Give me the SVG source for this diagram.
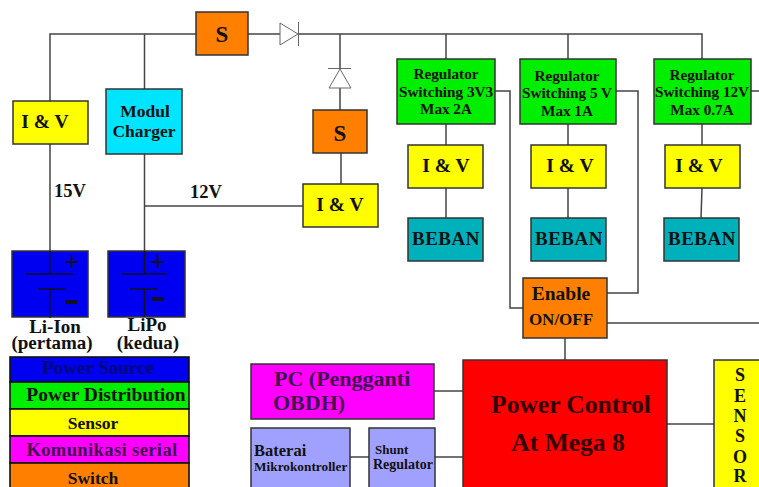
<svg xmlns="http://www.w3.org/2000/svg" width="759" height="487" viewBox="0 0 759 487">
<style>
text{font-family:"Liberation Serif","Times New Roman",serif;font-weight:bold;fill:#111;text-anchor:middle}
.st{text-anchor:start}
.b{stroke:#333;stroke-width:1.5}
.l{stroke:#111;stroke-width:1.6}
.w{stroke:#444;stroke-width:1.5;fill:none}
.p{stroke:#112;stroke-width:1.3;fill:none}
.yl{fill:#ffff00}.or{fill:#ff7f00}.gr{fill:#00ee00}.te{fill:#00b0bb}.cy{fill:#00e5ff}.bl{fill:#0000f0}.mg{fill:#ff00ff}.lv{fill:#a0a0ff}.rd{fill:#ff0000}
.iv{font-size:19.5px}.reg{font-size:15.2px}.be{font-size:19px;letter-spacing:.5px}.s{font-size:23px}.cap{font-size:19px}
</style>
<rect width="759" height="487" fill="#fff"/>
<g id="connectors" class="w">
<path d="M50 101V34H196M144.500 34V89M248 34H280M298 34H702V59M446 34V59M568 34V59"/>
<path d="M50 144V251M144.500 154V251M144.500 206H303"/>
<path d="M340 34V69M340 88V110M341 153V184"/>
<path d="M446 124V145M446 188V218M568 124V145M568 188V218M702 124V145M702 188L701 218"/>
<path d="M495 91H510V308H523M616 91H638V293H607M751 91H759M607 323H759M565 338V360"/>
<path d="M434 391H463M350 457H369M435 457H463M667 424H714"/>
</g>
<g id="diode-1"><path d="M280 23V45L298 34ZM298.500 22V46" fill="#fff" stroke="#666" stroke-width="1"/></g>
<g id="diode-2"><path d="M340 69L329 88H351ZM328 68.500H351" fill="#fff" stroke="#666" stroke-width="1"/></g>
<g id="switch-main"><rect class="b or" x="196" y="12" width="52" height="43"/><text class="s" x="222" y="42">S</text></g>
<g id="iv-liion"><rect class="b yl" x="13" y="101" width="75" height="43"/><text class="iv" x="45" y="128">I &amp; V</text></g>
<g id="charger"><rect class="b cy" x="106" y="89" width="76" height="65"/><text x="145" y="117" font-size="17.500">Modul</text><text x="144" y="137" font-size="17.500">Charger</text></g>
<g id="switch-2"><rect class="b or" x="313" y="110" width="54" height="43"/><text class="s" x="340" y="141">S</text></g>
<g id="iv-lipo"><rect class="b yl" x="303" y="184" width="75" height="43"/><text class="iv" x="340" y="211">I &amp; V</text></g>
<g id="reg-3v3"><rect class="b gr" x="397" y="59" width="98" height="65"/><text class="reg" x="446" y="79">Regulator</text><text class="reg" x="446" y="97">Switching 3V3</text><text class="reg" x="446" y="114">Max 2A</text></g>
<g id="reg-5v"><rect class="b gr" x="520" y="59" width="96" height="65"/><text class="reg" x="567" y="81">Regulator</text><text class="reg" x="567" y="98">Switching 5 V</text><text class="reg" x="567" y="116">Max 1A</text></g>
<g id="reg-12v"><rect class="b gr" x="654" y="59" width="97" height="65"/><text class="reg" x="702" y="80">Regulator</text><text class="reg" x="702" y="97">Switching 12V</text><text class="reg" x="702" y="115">Max 0.7A</text></g>
<g id="iv-3v3"><rect class="b yl" x="408" y="145" width="75" height="43"/><text class="iv" x="446" y="172">I &amp; V</text></g>
<g id="iv-5v"><rect class="b yl" x="531" y="145" width="75" height="43"/><text class="iv" x="570" y="172">I &amp; V</text></g>
<g id="iv-12v"><rect class="b yl" x="665" y="145" width="75" height="43"/><text class="iv" x="699" y="172">I &amp; V</text></g>
<g id="beban-1"><rect class="b te" x="408" y="218" width="75" height="43"/><text class="be" x="446" y="245">BEBAN</text></g>
<g id="beban-2"><rect class="b te" x="531" y="218" width="75" height="43"/><text class="be" x="569" y="245">BEBAN</text></g>
<g id="beban-3"><rect class="b te" x="664" y="218" width="75" height="43"/><text class="be" x="702" y="245">BEBAN</text></g>
<g id="enable"><rect class="b or" x="523" y="278" width="84" height="60"/><text x="561" y="300" font-size="19.500">Enable</text><text x="561" y="325" font-size="17">ON/OFF</text></g>
<g id="power-control"><rect class="b rd" x="463" y="360" width="204" height="140"/><text x="571" y="413" font-size="25.500" style="fill:#300">Power Control</text><text x="568" y="451" font-size="25.500" style="fill:#300">At Mega 8</text></g>
<g id="sensor"><rect class="b yl" x="714" y="360" width="50" height="140"/><g font-size="18"><text x="740" y="381">S</text><text x="740" y="402">E</text><text x="740" y="422">N</text><text x="740" y="442">S</text><text x="740" y="463">O</text><text x="740" y="482">R</text></g></g>
<g id="pc"><rect class="b mg" x="251" y="364" width="183" height="55"/><text class="st" x="274" y="386" font-size="22" style="fill:#401050">PC (Pengganti</text><text class="st" x="273" y="410" font-size="22" style="fill:#401050">OBDH)</text></g>
<g id="baterai"><rect class="b lv" x="251" y="428" width="99" height="62"/><text class="st" x="254" y="456" font-size="16.500">Baterai</text><text class="st" x="254" y="471" font-size="13.300">Mikrokontroller</text></g>
<g id="shunt"><rect class="b lv" x="369" y="428" width="66" height="62"/><text class="st" x="375" y="454" font-size="13">Shunt</text><text class="st" x="373" y="469" font-size="14">Regulator</text></g>
<g id="battery-liion"><rect class="b bl" x="12" y="251" width="76" height="66"/><path class="p" d="M50 251V274M26 274H73M38 289H65M50 289V318"/><text x="72" y="271" font-size="27" style="fill:#112">+</text><rect x="65" y="300" width="12" height="4" fill="#112"/></g>
<g id="battery-lipo"><rect class="b bl" x="108" y="251" width="77" height="66"/><path class="p" d="M144.500 251V274M122 274H167M130 289H157M144.500 289V317"/><text x="158" y="271" font-size="27" style="fill:#112">+</text><rect x="152" y="297" width="12" height="4" fill="#112"/></g>
<g id="labels"><text x="70" y="197" font-size="18.500">15V</text><text x="206" y="198" font-size="18.500">12V</text><text class="cap" x="55" y="333">Li-Ion</text><text class="cap" x="52" y="349">(pertama)</text><text class="cap" x="147" y="331">LiPo</text><text class="cap" x="148" y="349">(kedua)</text></g>
<g id="legend">
<rect class="bl l" x="10" y="357" width="179" height="25"/><text x="98" y="374" font-size="19" style="fill:#00087a">Power Source</text>
<rect class="gr l" x="10" y="382" width="179" height="27"/><text x="106" y="401" font-size="19.500">Power Distribution</text>
<rect class="yl l" x="10" y="409" width="179" height="27"/><text x="93" y="429" font-size="17.500">Sensor</text>
<rect class="mg l" x="10" y="436" width="179" height="27"/><text x="102" y="456" font-size="18.500" style="fill:#401050;letter-spacing:.4px">Komunikasi serial</text>
<rect class="or l" x="10" y="463" width="179" height="27"/><text x="93" y="484" font-size="17.500">Switch</text>
</g>
</svg>
